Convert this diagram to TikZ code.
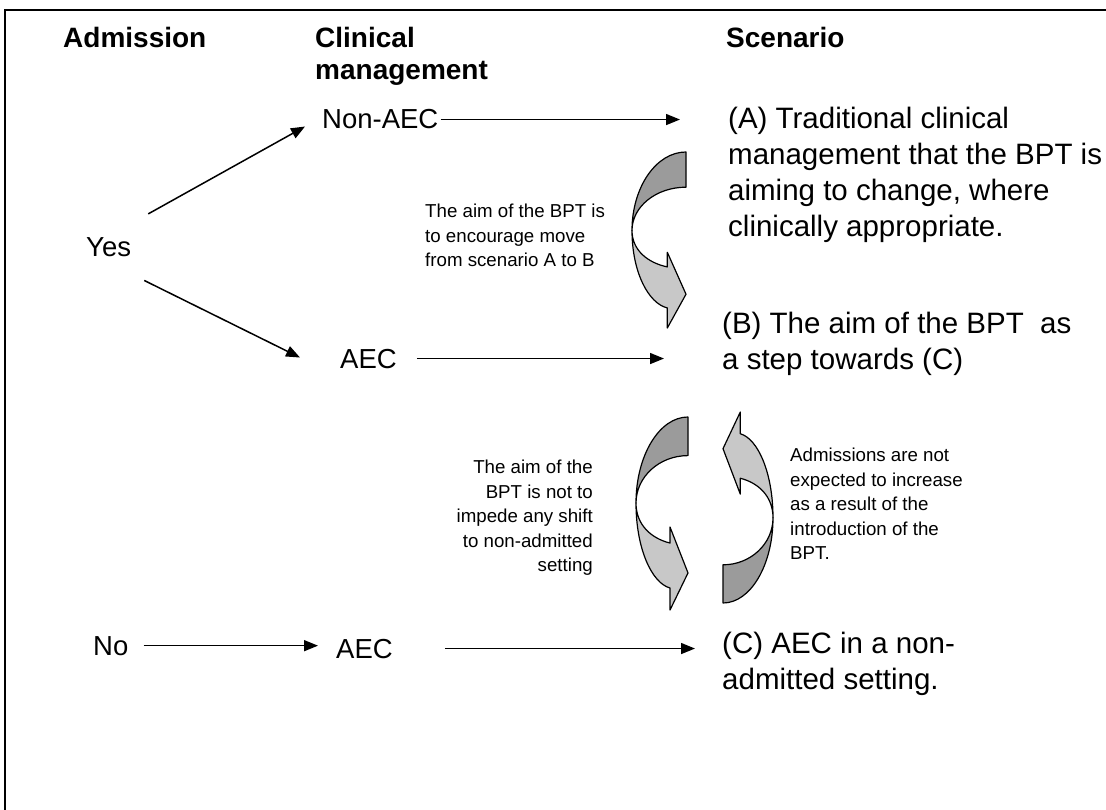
\documentclass[tikz,border=0pt]{standalone}
\usepackage{fontspec}
\setmainfont{Liberation Sans}
\usetikzlibrary{arrows.meta}
\definecolor{bandDark}{RGB}{155,155,155}
\definecolor{bandLight}{RGB}{200,200,200}
\newcommand\curlyshape{%
  \draw[darkpart] (1,0) .. controls (0.448,0) and (0,0.2) .. (0,0.446)
     .. controls (0,0.31) and (0.448,0.2) .. (1,0.2) -- cycle;
  \draw[lightpart] (0,0.446) .. controls (0,0.68) and (0.3,0.86) .. (0.654,0.886)
     -- (0.654,1) -- (1,0.808) -- (0.654,0.57) -- (0.654,0.653)
     .. controls (0.3,0.63) and (0,0.56) .. (0,0.446) -- cycle;}
\begin{document}
\begin{tikzpicture}[x=1pt,y=-1pt,
  arr/.style={line width=1.5pt,-{Triangle[length=14pt,width=11pt]}},
  lbl/.style={font=\fontsize{27.5}{33}\selectfont,inner sep=0pt,anchor=base west},
  hdr/.style={font=\bfseries\fontsize{28}{34}\selectfont,inner sep=0pt,anchor=base west},
  scen/.style={font=\fontsize{29.5}{36}\selectfont,inner sep=0pt,align=left,anchor=north west},
  note/.style={font=\fontsize{18.7}{24.5}\selectfont,inner sep=0pt},
  darkpart/.style={fill=bandDark,draw=black,line width=1.2pt,line join=round},
  lightpart/.style={fill=bandLight,draw=black,line width=1.2pt,line join=round}]
\useasboundingbox (0,0) rectangle (1106,810);
% frame
\draw[line width=2pt] (1120,10) -- (5,10) -- (5,820);
% headers
\node[hdr] (hAdm) at (63,48) {Admission};
\node[hdr] (hClin) at (315,48) {Clinical};
\node[hdr] (hMan) at (315,80) {management};
\node[hdr] (hScen) at (726,48) {Scenario};
% left column
\node[lbl] (yes) at (86,257) {Yes};
\node[lbl] (no) at (93,655) {No};
\node[lbl] (nonaec) at (322,129) {Non-AEC};
\node[lbl] (aecA) at (340,368) {AEC};
\node[lbl] (aecB) at (336,658) {AEC};
% scenarios
\node[scen] (scA) at (728,107) {(A) Traditional clinical\\management that the BPT is\\aiming to change, where\\clinically appropriate.};
\node[scen] (scB) at (722,312) {(B) The aim of the BPT\ \ as\\a step towards (C)};
\node[scen] (scC) at (722,632) {(C) AEC in a non-\\admitted setting.};
% notes
\node[note,align=left,anchor=north west] (n1) at (425,204) {The aim of the BPT is\\to encourage move\\from scenario A to B};
\node[note,align=right,anchor=north east] (n2) at (593,460) {The aim of the\\BPT is not to\\impede any shift\\to non-admitted\\setting};
\node[note,align=left,anchor=north west] (n3) at (790,448) {Admissions are not\\expected to increase\\as a result of the\\introduction of the\\BPT.};
% arrow end points
\coordinate (endA) at (680,117);
\coordinate (endB) at (664,357);
\coordinate (endC) at (695,645);
% connectors
\draw[arr] ([shift={(17,-24)}]yes.north east) -- ([shift={(-17,7)}]nonaec.west);
\draw[arr] ([shift={(13,23)}]yes.south east) -- ([shift={(-40,-1)}]aecA.west);
\draw[arr,shorten <=2pt] (nonaec.east) -- (nonaec.east -| endA);
\draw[arr,shorten <=20pt] (aecA.east) -- (aecA.east -| endB);
\draw[arr,shorten <=15pt,shorten >=18pt] (no.east) -- (no.east -| aecB.west);
\draw[arr,shorten <=52pt] (aecB.east) -- (aecB.east -| endC);
% curved arrows
\begin{scope}[shift={(632,152)},xscale=54,yscale=176]\curlyshape\end{scope}
\begin{scope}[shift={(636,417)},xscale=52,yscale=193]\curlyshape\end{scope}
\begin{scope}[shift={(773,603)},xscale=-50,yscale=-191]\curlyshape\end{scope}
\end{tikzpicture}
\end{document}
